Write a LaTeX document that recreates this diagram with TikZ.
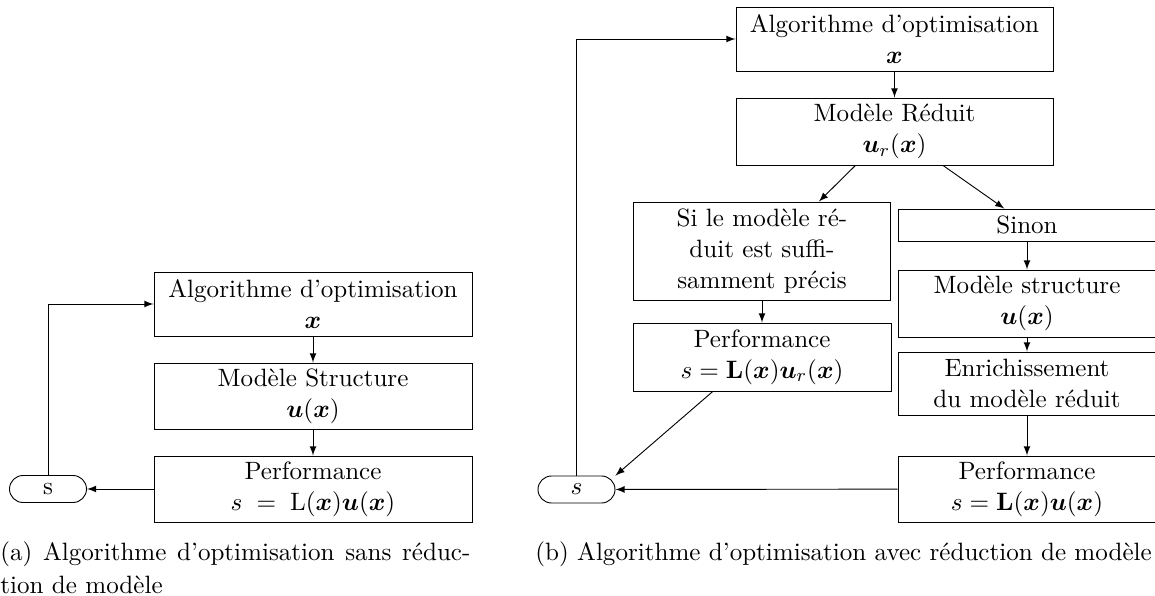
\documentclass[tikz,border=0pt]{standalone}
\usepackage{amsmath}
\newcommand\pxu{0.435pt}
\tikzset{
	bloc/.style={draw,align=center,inner sep=0pt},
	fleche/.style={-latex},
	sortie/.style={draw,rounded corners=13.5*\pxu,inner sep=0pt,minimum width=77*\pxu,minimum height=27*\pxu}
}
\begin{document}
	\begin{tikzpicture}[x=\pxu,y=-\pxu,every node/.style={font=\fontsize{10.9pt}{13.4pt}\selectfont}]
		\useasboundingbox (0,0) rectangle (1155,596);
		% sans reduction
		\node[bloc,minimum width=318*\pxu,minimum height=64*\pxu] (algoA) at (313,304) {Algorithme d'optimisation\\$\boldsymbol{x}$};
		\node[bloc,minimum width=318*\pxu,minimum height=66*\pxu] (modA) at (313,396) {Modèle Structure\\$\boldsymbol{u}(\boldsymbol{x})$};
		\node[bloc,minimum width=318*\pxu,minimum height=66*\pxu] (perfA) at (313,489) {Performance\\$s\;=\;\mathrm{L}(\boldsymbol{x})\boldsymbol{u}(\boldsymbol{x})$};
		\node[sortie] (sA) at (48,489) {s};
		\node[align=justify,text width=470*\pxu,inner sep=0pt,anchor=north west,font=\fontsize{10.9pt}{14.4pt}\selectfont] (capA) at (0,541)
			{(a) Algorithme d'optimisation sans réduc-\linebreak tion de modèle};
		% avec reduction
		\node[bloc,minimum width=317*\pxu,minimum height=64*\pxu] (algoB) at (894.5,39) {Algorithme d'optimisation\\$\boldsymbol{x}$};
		\node[bloc,minimum width=317*\pxu,minimum height=67*\pxu] (redB) at (894.5,131.5) {Modèle Réduit\\$\boldsymbol{u}_r(\boldsymbol{x})$};
		\node[bloc,minimum width=257*\pxu,minimum height=98*\pxu] (siB) at (762,251) {Si le modèle ré-\\duit est suffi-\\samment précis};
		\node[bloc,minimum width=258*\pxu,minimum height=68*\pxu] (perfrB) at (762,357) {Performance\\$s=\mathbf{L}(\boldsymbol{x})\boldsymbol{u}_r(\boldsymbol{x})$};
		\node[bloc,minimum width=258*\pxu,minimum height=32*\pxu] (sinonB) at (1027,225) {Sinon};
		\node[bloc,minimum width=258*\pxu,minimum height=67*\pxu] (structB) at (1027,303.5) {Modèle structure\\$\boldsymbol{u}(\boldsymbol{x})$};
		\node[bloc,minimum width=258*\pxu,minimum height=63*\pxu] (enrichB) at (1027,383.5) {Enrichissement\\du modèle réduit};
		\node[bloc,minimum width=258*\pxu,minimum height=66*\pxu] (perfB) at (1027,489) {Performance\\$s=\mathbf{L}(\boldsymbol{x})\boldsymbol{u}(\boldsymbol{x})$};
		\node[sortie] (sB) at (576.5,489.5) {$s$};
		\node[inner sep=0pt,anchor=base west] (capB) at (535,560) {(b) Algorithme d'optimisation avec réduction de modèle};
		% fleches
		\foreach \a/\b in {algoA/modA,modA/perfA,algoB/redB,siB/perfrB,sinonB/structB,structB/enrichB,enrichB/perfB} {
				\draw[fleche] (\a) -- (\b);
			}
		\draw[fleche] (perfA) -- (sA);
		\draw[fleche] (sA) |- (algoA);
		\draw[fleche] (redB.221.8) -- (siB.41.5);
		\draw[fleche] (redB.325.4) -- (sinonB.144.2);
		\draw[fleche] (perfrB.215.3) -- (sB.north east);
		\draw[fleche] (perfB) -- (sB);
		\draw[fleche] (sB) |- (algoB);
	\end{tikzpicture}
\end{document}
